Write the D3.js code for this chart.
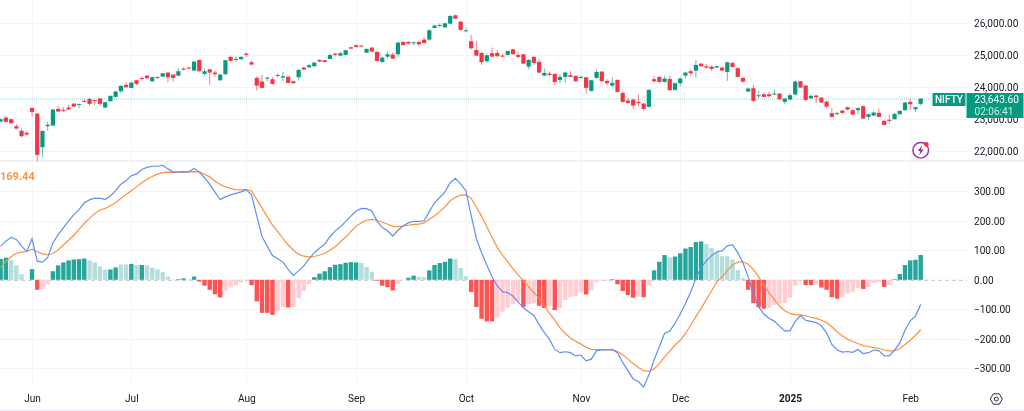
<!DOCTYPE html>
<html><head><meta charset="utf-8">
<script src="https://cdn.jsdelivr.net/npm/d3@7/dist/d3.min.js"></script>
<style>
html,body{margin:0;padding:0;background:#fff;overflow:hidden}
svg{display:block;filter:blur(0.35px)}
text{font-family:Roboto,sans-serif;font-size:10.1px;fill:#131722}
</style></head><body><svg id="c" width="1024" height="411"></svg>
<script>
const opens=[22923,23048,22996,22777,22631,22569,23351,23173,22120,22777,
22798,23319,23288,23361,23486,23455,23570,23632,23601,23643,
23361,23559,23695,23872,24070,23977,24216,24289,24362,24185,
24321,24331,24456,24394,24362,24581,24613,24519,24853,24415,
24560,24456,24216,24404,24947,24863,24874,25051,24780,24289,
24175,24279,24248,24383,24300,24331,24185,24310,24613,24623,
24655,24853,24842,24884,25051,24988,25009,25249,25312,25301,
25082,25239,25103,24790,24957,25020,25030,25416,25416,25385,
25416,25489,25489,25854,25916,25875,25989,26250,26052,25760,
25437,25166,25072,24811,25061,25072,24988,25009,25186,25009,
25030,24644,24947,24790,24362,24425,24415,24227,24321,24373,
24352,24300,24310,23883,24289,24488,24196,24050,24227,23820,
23580,23611,23539,23486,23382,24248,24321,24164,24258,23914,
24123,24362,24498,24519,24738,24655,24644,24613,24613,24477,
24759,24592,24289,23862,23966,23716,23778,23778,23768,23799,
23539,23612,23768,24185,24050,23653,23737,23674,23549,23184,
23153,23267,23372,23278,23278,23403,23070,23111,23194,22944,
22975,22996,23153,23278,23538,23309,23476];
const highs=[23017,23100,23017,22840,22714,22641,23351,23173,22631,22913,
23298,23403,23372,23445,23486,23476,23622,23664,23601,23664,
23528,23747,23893,24060,24154,24164,24227,24331,24373,24331,
24331,24446,24467,24394,24602,24623,24644,24821,24853,24581,
24560,24508,24415,24853,24988,24967,24967,25082,24832,24342,
24383,24331,24310,24425,24488,24331,24196,24560,24634,24717,
24780,24863,24853,25040,25072,25113,25176,25260,25343,25322,
25207,25260,25145,24957,25113,25082,25426,25437,25437,25426,
25458,25583,25812,25958,26000,26010,26261,26271,26083,25864,
25635,25458,25113,25051,25239,25166,25040,25145,25207,25092,
25040,24874,24978,24874,24592,24488,24425,24415,24477,24498,
24373,24362,24310,24227,24550,24498,24248,24321,24248,23862,
23664,23632,23778,23507,23935,24352,24331,24352,24352,24143,
24310,24488,24571,24853,24748,24727,24675,24675,24655,24790,
24790,24623,24331,23987,24070,23893,23841,23851,23935,23810,
23653,23810,24216,24196,24060,23778,23758,23685,23570,23351,
23236,23288,23392,23298,23372,23434,23163,23236,23340,22975,
23132,23184,23278,23538,23643,23392,23653];
const lows=[22902,22892,22860,22683,22422,22475,23080,21672,21807,22641,
22798,23226,23215,23288,23372,23340,23518,23413,23445,23413,
23340,23549,23685,23810,23987,23966,24060,24206,24268,24164,
24248,24321,24143,24175,24331,24519,24560,24508,24488,24352,
24070,24321,24195,24394,24780,24800,24853,24957,24686,23893,
23956,24185,24070,24310,24196,24123,24112,24206,24540,24613,
24644,24780,24770,24874,24957,24957,24988,25197,25239,25239,
25072,25103,24811,24759,24894,24884,24957,25291,25332,25322,
25280,25364,25458,25843,25864,25864,25958,26135,25770,25718,
25186,24978,24696,24759,24936,24957,24926,24999,25020,24894,
24727,24560,24696,24446,24352,24331,24070,24123,24143,24310,
24175,24269,23799,23862,24258,24175,24060,23997,23841,23518,
23476,23330,23392,23257,23372,24143,24123,24143,23872,23893,
24018,24269,24352,24310,24634,24581,24508,24592,24508,24196,
24613,24310,24143,23851,23549,23643,23685,23674,23747,23601,
23466,23591,23747,23977,23549,23622,23497,23507,23340,23049,
23122,23153,23278,23111,23153,22996,22986,23090,23059,22808,
22850,22986,23142,23257,23288,23226,23434];
const closes=[22996,22913,22871,22704,22464,22516,23226,21880,22631,22819,
23298,23236,23257,23298,23392,23476,23539,23476,23580,23476,
23528,23726,23862,24039,23997,24143,24102,24268,24279,24310,
24300,24435,24310,24289,24498,24550,24581,24800,24498,24498,
24456,24404,24394,24842,24822,24884,24947,25009,24707,24050,
23977,24300,24102,24352,24342,24133,24123,24540,24550,24686,
24769,24801,24790,25009,25009,25061,25155,25207,25259,25270,
25197,25113,24821,24926,25030,24894,25395,25322,25364,25405,
25343,25385,25781,25927,25948,26000,26229,26146,25791,25781,
25218,24988,24780,24999,24957,24968,24957,25134,25030,24947,
24738,24853,24759,24456,24446,24383,24164,24321,24456,24321,
24185,24321,23977,24217,24477,24185,24123,24133,23851,23539,
23507,23424,23497,23319,23914,24185,24164,24269,23904,24123,
24269,24456,24435,24696,24655,24613,24571,24655,24519,24780,
24634,24321,24175,23956,23570,23747,23695,23716,23799,23622,
23643,23747,24175,23987,23601,23726,23685,23518,23392,23070,
23184,23194,23298,23142,23340,23017,23153,23205,23070,22819,
22954,23163,23257,23518,23466,23372,23643.6];
const histogram=[71,75,67,49,19,1,36,-34,-31,-15,
29,49,59,66,69,70,72,66,59,45,
34,35,42,52,52,54,50,50,49,41,
35,27,11,1,2,5,1,11,-6,-20,
-34,-49,-60,-37,-26,-18,-9,-1,-18,-73,
-112,-112,-119,-105,-92,-94,-92,-62,-38,-15,
9,21,29,43,51,53,58,60,59,57,
43,27,-3,-20,-25,-36,-14,-1,7,14,
10,9,32,50,57,61,72,70,40,12,
-41,-92,-132,-141,-141,-128,-108,-95,-82,-73,
-92,-82,-80,-88,-96,-89,-103,-95,-69,-58,
-55,-43,-50,-35,-7,-3,-2,2,-15,-38,
-52,-61,-57,-59,-20,32,61,84,76,79,
90,106,111,128,130,121,108,94,80,80,
69,33,6,-34,-79,-93,-98,-95,-85,-81,
-78,-61,-20,-2,-18,-18,-17,-26,-34,-59,
-64,-59,-46,-41,-27,-31,-24,-11,-8,-24,
-18,2,20,50,66,68,84];
// 1 = momentum growing (solid bar), 0 = momentum fading (pale bar)
const histGrowing=[1,1,0,0,0,0,1,1,0,0,
1,1,1,1,1,1,1,0,0,0,
0,1,1,0,0,1,0,1,0,0,
0,0,0,0,1,1,0,1,1,1,
1,1,1,0,0,0,0,0,1,1,
1,1,1,0,0,1,0,0,0,0,
1,1,1,1,1,1,1,1,1,0,
0,0,1,1,1,1,0,0,1,1,
0,0,1,1,1,1,1,0,0,0,
1,1,1,1,1,0,0,0,0,0,
1,0,0,1,1,0,1,0,0,0,
0,0,1,0,0,0,0,1,1,1,
1,1,0,1,0,1,1,1,0,1,
1,1,1,1,1,0,0,0,0,0,
0,0,0,1,1,1,1,0,0,0,
0,0,0,0,1,1,0,1,1,1,
1,0,0,0,0,1,0,0,0,1,
0,1,1,1,1,1,1];
const macdLine=[114,131,144,137,114,96,139,63,60,76,
125,153,176,200,221,238,261,271,277,276,
273,284,302,324,336,353,359,374,381,385,
385,388,376,365,366,367,366,377,365,346,
324,297,272,281,288,293,298,305,288,216,
147,114,82,71,60,35,15,31,47,70,
92,107,121,146,166,180,197,216,233,242,
241,233,199,177,166,148,168,183,193,198,
198,200,231,261,279,298,329,344,324,302,
219,140,92,50,10,-21,-40,-44,-55,-75,
-95,-108,-121,-151,-179,-202,-236,-247,-244,-247,
-258,-255,-275,-269,-240,-238,-238,-237,-247,-281,
-308,-336,-345,-363,-323,-272,-227,-182,-174,-148,
-116,-80,-41,5,42,64,82,95,98,115,
119,92,58,10,-46,-92,-116,-131,-140,-157,
-173,-173,-141,-121,-137,-141,-145,-156,-180,-219,
-238,-245,-243,-246,-236,-250,-247,-238,-240,-257,
-258,-238,-214,-171,-139,-123,-84];
const signalLine=[42,61,78,90,94,96,104,95,88,85,
89,101,118,134,151,171,191,208,225,236,
242,251,261,276,289,302,315,329,341,350,
358,363,365,364,364,365,366,367,366,358,
349,334,323,315,310,306,305,306,301,272,
244,214,185,163,140,118,101,86,80,78,
79,84,89,101,112,129,144,163,182,193,
202,205,202,195,189,181,180,182,185,188,
189,193,205,216,231,247,268,280,287,288,
276,247,216,180,144,110,84,61,38,16,
-3,-24,-43,-63,-88,-114,-137,-163,-182,-197,
-208,-218,-229,-236,-237,-237,-237,-237,-243,-254,
-269,-284,-297,-308,-310,-302,-284,-261,-242,-221,
-205,-182,-154,-125,-97,-67,-37,-7,10,31,
50,60,61,53,35,10,-18,-44,-67,-89,
-105,-114,-118,-119,-122,-127,-131,-137,-145,-159,
-176,-190,-201,-209,-216,-223,-226,-230,-232,-238,
-241,-240,-234,-219,-205,-188,-169.44];
const priceTicks=[22000,23000,24000,25000,26000];
const macdTicks=[-300,-200,-100,0,100,200,300];
const monthIndex=[6,25,47,68,89,111,130,151,174];
const monthLabels=["Jun","Jul","Aug","Sep","Oct","Nov","Dec","2025","Feb"];
const lastPrice=23643.6, symbol="NIFTY", countdown="02:06:41", signalLabel="169.44";

const svg=d3.select("#c");
const UP="#089981",DOWN="#f23645",GRID="#f3f4f7";
const axisX=967, plotBottom=386;
const x=d3.scaleLinear().domain([6,176]).range([32,920.7]);
const yP=d3.scaleLinear().domain([22000,26000]).range([151,23.3]);
const yM=d3.scaleLinear().domain([-300,300]).range([368.3,191.3]);
const idx=d3.range(opens.length);

// grids
const grid=svg.append("g").attr("stroke",GRID).attr("stroke-width",1);
grid.selectAll(".v").data(monthIndex).join("line").attr("x1",d=>Math.round(x(d))+.5).attr("x2",d=>Math.round(x(d))+.5).attr("y1",0).attr("y2",plotBottom);
grid.selectAll(".p").data(priceTicks).join("line").attr("x1",0).attr("x2",axisX).attr("y1",d=>Math.round(yP(d))+.5).attr("y2",d=>Math.round(yP(d))+.5);
grid.selectAll(".m").data(macdTicks.filter(d=>d!==0)).join("line").attr("x1",0).attr("x2",axisX).attr("y1",d=>Math.round(yM(d))+.5).attr("y2",d=>Math.round(yM(d))+.5);
// pane separators
svg.append("rect").attr("x",0).attr("y",160.5).attr("width",1024).attr("height",1.2).attr("fill","#e8eaf0");
svg.append("rect").attr("x",0).attr("y",409).attr("width",1024).attr("height",2).attr("fill","#f0f3fa");
// zero line
svg.append("line").attr("x1",0).attr("x2",axisX).attr("y1",yM(0)+.5).attr("y2",yM(0)+.5).attr("stroke","#c3c6ce").attr("stroke-dasharray","4 3");
// last price line
svg.append("line").attr("x1",0).attr("x2",932).attr("y1",yP(lastPrice)+.5).attr("y2",yP(lastPrice)+.5).attr("stroke",UP).attr("stroke-opacity",.45).attr("stroke-dasharray","1 1");

// histogram
const barW=4.4;
svg.append("g").selectAll("rect").data(idx).join("rect")
 .attr("x",i=>x(i)-barW/2).attr("width",barW)
 .attr("y",i=>Math.min(yM(0),yM(histogram[i])))
 .attr("height",i=>Math.abs(yM(histogram[i])-yM(0)))
 .attr("fill",i=>histogram[i]>=0?(histGrowing[i]?"#26a69a":"#b2dfdb"):(histGrowing[i]?"#ff5252":"#ffcdd2"));

// macd lines
const lineOf=a=>d3.line().x((d,i)=>x(i)).y(d=>yM(d))(a);
svg.append("path").attr("d",lineOf(signalLine)).attr("fill","none").attr("stroke","#ff8f3a").attr("stroke-width",1.2);
svg.append("path").attr("d",lineOf(macdLine)).attr("fill","none").attr("stroke","#5f8ff5").attr("stroke-width",1.2);

// candles
const colorOf=i=>closes[i]>=opens[i]?UP:DOWN;
const candles=svg.append("g");
candles.selectAll(".w").data(idx).join("line").attr("x1",i=>x(i)).attr("x2",i=>x(i)).attr("y1",i=>yP(highs[i])).attr("y2",i=>yP(lows[i])).attr("stroke",colorOf).attr("stroke-opacity",.65).attr("stroke-width",1);
candles.selectAll(".b").data(idx).join("rect").attr("x",i=>x(i)-2.1).attr("width",4.2)
 .attr("y",i=>yP(Math.max(opens[i],closes[i])))
 .attr("height",i=>Math.max(1,Math.abs(yP(opens[i])-yP(closes[i])))).attr("fill",colorOf);

// axes
const fmt=d3.format(",.2f");
const ax1=svg.append("g").attr("transform",`translate(${axisX},0)`).call(d3.axisRight(yP).tickValues(priceTicks).tickFormat(fmt).tickSize(0).tickPadding(7));
const ax2=svg.append("g").attr("transform",`translate(${axisX},0)`).call(d3.axisRight(yM).tickValues(macdTicks).tickFormat(d=>fmt(d).replace("-","\u2212")).tickSize(0).tickPadding(7));
const ax3=svg.append("g").attr("transform",`translate(0,390)`).call(d3.axisBottom(x).tickValues(monthIndex).tickFormat((d,i)=>monthLabels[i]).tickSize(0).tickPadding(5));
[ax1,ax2,ax3].forEach(a=>{a.select(".domain").remove();a.selectAll("text").attr("font-family",null).attr("font-size",null).style("fill","#131722")});
ax3.selectAll("text").filter(d=>d===151).style("font-weight","700");
ax1.selectAll(".tick text").attr("dy","0.36em");ax2.selectAll(".tick text").attr("dy","0.36em");

// signal value
svg.append("text").attr("x",0).attr("y",180).text(signalLabel).style("fill","#ff9345").style("font-size","11px").style("font-weight","700");

// price tags
svg.append("rect").attr("x",932.5).attr("y",93).attr("width",33).attr("height",13).attr("fill",UP);
svg.append("rect").attr("x",966.5).attr("y",93).attr("width",57).attr("height",25).attr("fill",UP);
svg.append("text").attr("x",949).attr("y",103).attr("text-anchor","middle").text(symbol).style("fill","#fff").style("font-weight","500");
svg.append("text").attr("x",974.5).attr("y",103).text(fmt(lastPrice)).style("fill","#fff");
svg.append("text").attr("x",974.5).attr("y",114.5).text(countdown).style("fill","#c9ebe4");

// bolt icon
const ic=svg.append("g").attr("transform","translate(920.7,150.3)");
ic.append("circle").attr("r",7.8).attr("fill","#fff").attr("stroke","#9c27b0").attr("stroke-width",1.4);
ic.append("path").attr("d","M1.5,-5 L-3,0.8 L-0.4,0.8 L-1.5,5 L3,-0.8 L0.4,-0.8 Z").attr("fill","#9c27b0");
ic.append("circle").attr("cx",5.6).attr("cy",-6).attr("r",2.4).attr("fill","#f23645");
// settings icon
const st=svg.append("g").attr("transform","translate(996.3,399)").attr("fill","none").attr("stroke","#2a2e39").attr("stroke-width",1);
st.append("path").attr("d",d3.line()(d3.range(6).map(k=>[6*Math.cos(k*Math.PI/3),6*Math.sin(k*Math.PI/3)]))+"Z");
st.append("circle").attr("r",2);
</script></body></html>
